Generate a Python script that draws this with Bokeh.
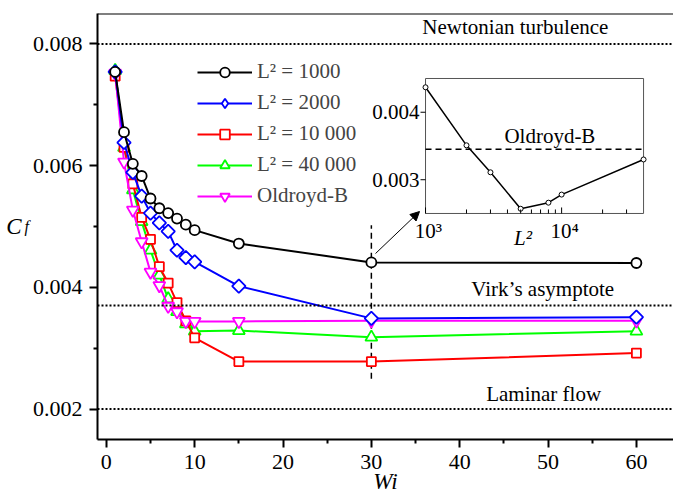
import math
from bokeh.plotting import figure
from bokeh.models import (Range1d, FixedTicker, Span, Label, Legend,
                          LegendItem, Arrow, NormalHead, PrintfTickFormatter, LinearAxis)
from bokeh.core.properties import value
from bokeh.embed import file_html
from bokeh.resources import INLINE

# ---------------- data ----------------
wi = [1, 2, 3, 4, 5, 6, 7, 8, 9, 10, 15, 30, 60]
cf_L1000 = [0.00754, 0.00655, 0.00603, 0.00583, 0.00546, 0.00530, 0.00522, 0.00513, 0.00503, 0.00494, 0.00472, 0.00441, 0.00440]
cf_L2000 = [0.00754, 0.00638, 0.00589, 0.00550, 0.00522, 0.00506, 0.00492, 0.00461, 0.00449, 0.00442, 0.00402, 0.00349, 0.00351]
cf_L10000 = [0.00747, 0.00630, 0.00570, 0.00515, 0.00479, 0.00434, 0.00407, 0.00375, 0.00345, 0.00317, 0.00278, 0.00278, 0.00292]
cf_L40000 = [0.00756, 0.00630, 0.00560, 0.00508, 0.00461, 0.00420, 0.00381, 0.00360, 0.00340, 0.00328, 0.00329, 0.00318, 0.00328]
cf_oldroyd = [0.00752, 0.00606, 0.00527, 0.00475, 0.00425, 0.00403, 0.00369, 0.00360, 0.00344, 0.00344, 0.00344, 0.00345, 0.00345]
series_labels = ["L\u00b2 = 1000", "L\u00b2 = 2000", "L\u00b2 = 10 000", "L\u00b2 = 40 000", "Oldroyd-B"]

inset_L2 = [1000, 2000, 3000, 5000, 8000, 10000, 40000]
inset_cf = [0.00437, 0.00351, 0.00311, 0.00257, 0.00266, 0.00278, 0.00330]
inset_oldroyd_cf = 0.00345
inset_wi = 30

newtonian_cf = 0.008
virk_cf = 0.0037
laminar_cf = 0.002

x_ticks = [0, 10, 20, 30, 40, 50, 60]
x_minor = [5, 15, 25, 35, 45, 55]
y_ticks = [0.002, 0.004, 0.006, 0.008]
y_minor = [0.003, 0.005, 0.007]
inset_y_ticks = [0.003, 0.004]
inset_y_labels = ["0.003", "0.004"]
inset_x_ticks = [1000, 10000]
inset_x_labels = ["10\u00b3", "10\u2074"]
inset_x_minor = [2000, 3000, 4000, 5000, 6000, 7000, 8000, 9000, 20000, 30000]

FONT = "Liberation Serif"
FS = "21px"
TICK_FS = "22px"

lg = math.log10  # inset x axis is logarithmic

# ---------------- figure ----------------
p = figure(width=673, height=502, x_range=Range1d(-1, 64.2), y_range=Range1d(0.0015, 0.0085),
           output_backend="svg", toolbar_location=None,
           min_border_left=97, min_border_right=0, min_border_top=13, min_border_bottom=63)
p.grid.visible = False
p.outline_line_color = None
p.background_fill_color = "white"
p.border_fill_color = "white"

for ax in (p.xaxis[0], p.yaxis[0]):
    ax.axis_line_width = 2
    ax.axis_line_color = "black"
    ax.major_tick_line_width = 2
    ax.minor_tick_line_width = 2
    ax.major_tick_out = 8
    ax.major_tick_in = 0
    ax.minor_tick_out = 4
    ax.minor_tick_in = 0
    ax.major_label_text_font = FONT
    ax.major_label_text_font_size = TICK_FS
    ax.major_label_text_color = "black"
p.xaxis.ticker = FixedTicker(ticks=x_ticks, minor_ticks=x_minor)
p.yaxis.ticker = FixedTicker(ticks=y_ticks, minor_ticks=y_minor)
p.yaxis.formatter = PrintfTickFormatter(format="%.3f")
p.xaxis.major_label_standoff = 7
p.yaxis.major_label_standoff = 7

# axis titles: Wi below, C_f on the left (C on an outer axis, subscript f on the inner one)
p.xaxis.axis_label = "Wi"
p.xaxis.axis_label_text_font = FONT
p.xaxis.axis_label_text_font_style = "italic"
p.xaxis.axis_label_text_font_size = "23px"
p.xaxis.axis_label_text_color = "black"
p.xaxis.axis_label_standoff = -3

p.yaxis.axis_label = "f"
p.yaxis.axis_label_orientation = "horizontal"
p.yaxis.axis_label_text_font = FONT
p.yaxis.axis_label_text_font_style = "italic"
p.yaxis.axis_label_text_font_size = "16px"
p.yaxis.axis_label_text_color = "black"
p.yaxis.axis_label_text_baseline = "top"
p.yaxis.axis_label_standoff = 1

c_axis = LinearAxis(axis_label="C", ticker=FixedTicker(ticks=[]), axis_line_color=None,
                    major_tick_line_color=None, minor_tick_line_color=None,
                    major_tick_out=0, minor_tick_out=0, major_label_standoff=0,
                    major_label_text_font_size="0px", axis_label_standoff=0,
                    axis_label_orientation="horizontal", axis_label_text_font=FONT,
                    axis_label_text_font_style="italic", axis_label_text_font_size="23px",
                    axis_label_text_color="black")
p.add_layout(c_axis, "left")

# top frame line
p.add_layout(Span(location=0.0085, dimension="width", line_color="black", line_width=2))

# reference lines
for loc in (newtonian_cf, virk_cf, laminar_cf):
    p.add_layout(Span(location=loc, dimension="width", line_color="black", line_width=2,
                      line_dash="2 2"))

def lab(text, x, y, **kw):
    opts = dict(text_font=FONT, text_font_size=FS, text_color="black",
                text_align="center", text_baseline="middle")
    opts.update(kw)
    p.add_layout(Label(x=x, y=y, text=text, **opts))

lab("Newtonian turbulence", 46.3, 0.00827)
lab("Virk\u2019s asymptote", 49.4, 0.00397)
lab("Laminar flow", 49.5, 0.00224)

# dashed vertical marker at Wi=30
p.segment(x0=[inset_wi], y0=[0.0025], x1=[inset_wi], y1=[0.00502], line_color="black",
          line_width=1.5, line_dash="6 4")

# series
specs = [
    ("L40000", cf_L40000, "#00ff00", "triangle", 0, 12),
    ("L10000", cf_L10000, "#ff0000", "square", 0, 9),
    ("oldroyd", cf_oldroyd, "#ff00ff", "inverted_triangle", 0, 12),
    ("L2000", cf_L2000, "#0000ff", "square", math.pi / 4, 9.5),
    ("L1000", cf_L1000, "#000000", "circle", 0, 10),
]
rends = {}
for key, ys, col, mk, ang, sz in specs:
    lr = p.line(wi, ys, line_color=col, line_width=2)
    sr = p.scatter(wi, ys, marker=mk, angle=ang, size=sz, fill_color="white",
                   line_color=col, line_width=1.8)
    rends[key] = [lr, sr]

# legend key for the diamond series (legend keys are drawn unrotated)
diamond_key = p.scatter(wi, cf_L2000, marker="diamond", size=13, fill_color="white",
                        line_color="#0000ff", line_width=1.8, visible=False)
rends["L2000"] = [rends["L2000"][0], diamond_key]

order = ["L1000", "L2000", "L10000", "L40000", "oldroyd"]
items = [LegendItem(label=series_labels[i], renderers=rends[order[i]]) for i in range(5)]
legend = Legend(items=items, location=(100, 231), border_line_color=None,
                background_fill_alpha=0, label_text_font=FONT, label_text_font_size=FS,
                glyph_width=55, glyph_height=24, label_height=24, spacing=6, padding=0,
                margin=0, label_standoff=5, inactive_fill_alpha=0)
p.add_layout(legend)

# arrow to inset
p.add_layout(Arrow(end=NormalHead(size=9, fill_color="black", line_color="black", line_width=1),
                   x_start=30.47, y_start=0.004556, x_end=35.45, y_end=0.005246,
                   line_color="black", line_width=1))

# ---------------- inset (log10 of L^2 on x) ----------------
ins = p.subplot(x_source=Range1d(lg(1000), lg(40000)), y_source=Range1d(0.0025, 0.0045),
                x_target=Range1d(36.13, 60.81), y_target=Range1d(0.005214, 0.007432))
ins.quad(left=[lg(1000)], right=[lg(40000)], bottom=[0.0025], top=[0.0045], fill_color="white",
         line_color="#555555", line_width=1)
ins.line([lg(1000), lg(40000)], [inset_oldroyd_cf, inset_oldroyd_cf], line_color="black",
         line_width=1.5, line_dash="6 4")
inset_x = [lg(v) for v in inset_L2]
ins.line(inset_x, inset_cf, line_color="black", line_width=1.5)
ins.scatter(inset_x, inset_cf, marker="circle", size=5, fill_color="white",
            line_color="black", line_width=1)
# inset ticks
ins.ray(x=[lg(1000)] * len(inset_y_ticks), y=inset_y_ticks, length=5, length_units="screen",
        angle=math.pi, line_color="black", line_width=1)
ins.ray(x=[lg(v) for v in inset_x_minor], y=[0.0025] * len(inset_x_minor), length=4,
        length_units="screen", angle=math.pi / 2, line_color="black", line_width=1)
ins.ray(x=[lg(v) for v in inset_x_ticks], y=[0.0025] * len(inset_x_ticks), length=6,
        length_units="screen", angle=math.pi / 2, line_color="black", line_width=1)
ins.text(x=[lg(1000)] * len(inset_y_ticks), y=inset_y_ticks, text=inset_y_labels, x_offset=-6,
         text_align="right", text_baseline="middle", text_font=value(FONT),
         text_font_size=FS, text_color="black")
ins.text(x=[lg(v) for v in inset_x_ticks], y=[0.0025] * len(inset_x_ticks), text=inset_x_labels,
         x_offset=3, y_offset=6, text_align="center", text_baseline="top",
         text_font=value(FONT), text_font_size=FS, text_color="black")
ins.text(x=[lg(5200)], y=[0.0025], text=["L\u00b2"], y_offset=25, text_align="center",
         text_baseline="middle", text_font=value(FONT), text_font_style="italic",
         text_font_size=FS, text_color="black")
ins.text(x=[lg(8200)], y=[inset_oldroyd_cf], text=["Oldroyd-B"], y_offset=-13,
         text_align="center", text_baseline="middle", text_font=value(FONT),
         text_font_size=FS, text_color="black")

open("out.html", "w").write(file_html(p, INLINE))
